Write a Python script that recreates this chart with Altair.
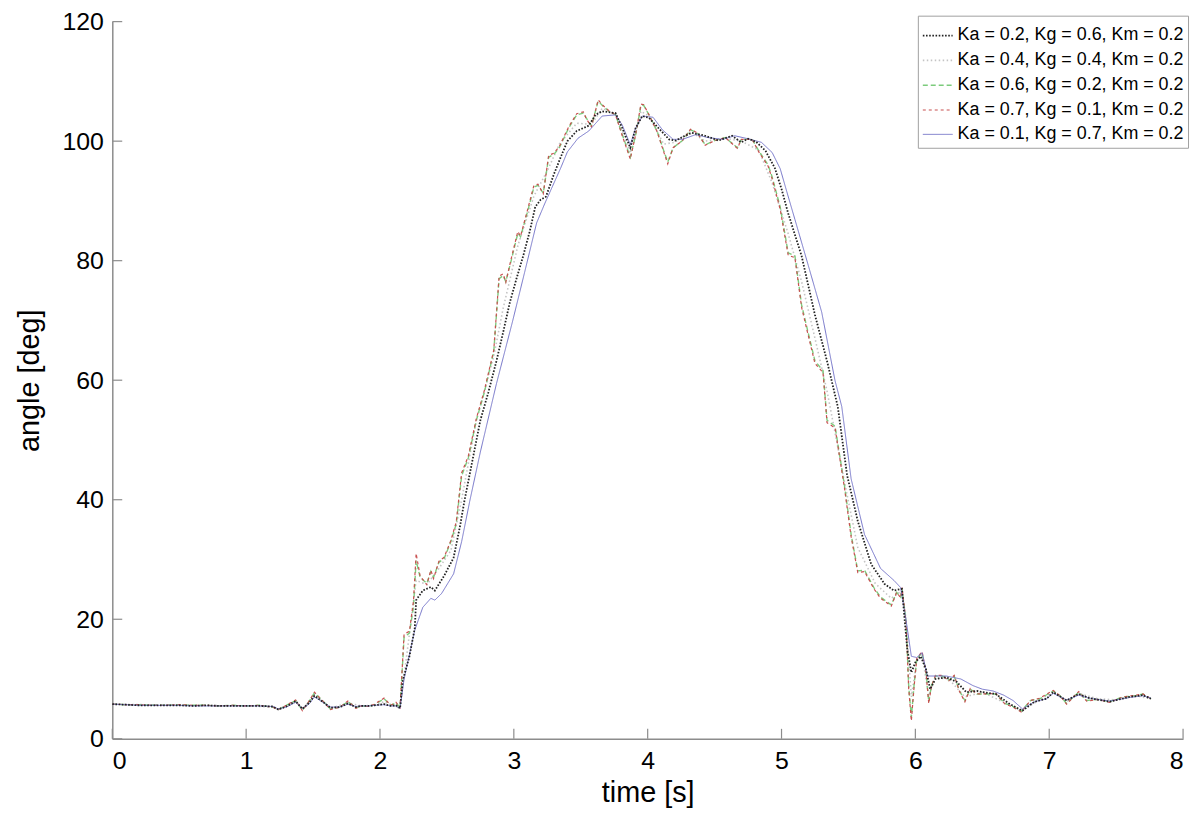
import altair as alt
import pandas as pd

series_names = [
    "Ka = 0.2, Kg = 0.6, Km = 0.2",
    "Ka = 0.4, Kg = 0.4, Km = 0.2",
    "Ka = 0.6, Kg = 0.2, Km = 0.2",
    "Ka = 0.7, Kg = 0.1, Km = 0.2",
    "Ka = 0.1, Kg = 0.7, Km = 0.2",
]

# Ka = 0.6 (green) and Ka = 0.7 (red) share this time grid
t_fast = [0, 0.1, 0.2, 0.3, 0.4, 0.5, 0.6, 0.7, 0.8, 0.9, 1.0, 1.1, 1.2,
          1.24, 1.3, 1.37, 1.42, 1.47, 1.51, 1.56, 1.63, 1.7, 1.76, 1.82, 1.86, 1.92, 1.96, 2.03, 2.08, 2.12, 2.15,
          2.18, 2.22, 2.25, 2.27, 2.30, 2.35, 2.38, 2.40, 2.44, 2.48,
          2.53, 2.57, 2.61, 2.66, 2.72, 2.78, 2.85, 2.89, 2.92, 2.94,
          2.98, 3.03, 3.05, 3.10, 3.15, 3.18, 3.22, 3.26, 3.30, 3.34,
          3.41, 3.47, 3.52, 3.54, 3.58, 3.63, 3.66, 3.71, 3.76, 3.81,
          3.87, 3.91, 3.95, 3.97, 4.01, 4.07, 4.12, 4.15, 4.19, 4.26,
          4.32, 4.37, 4.43, 4.50, 4.58, 4.67, 4.70, 4.78, 4.83, 4.90,
          4.93, 4.99, 5.05, 5.10, 5.15, 5.19, 5.25, 5.31, 5.34, 5.40,
          5.47, 5.52, 5.57, 5.62, 5.69, 5.74, 5.82, 5.86, 5.89, 5.90,
          5.93, 5.95, 5.97, 5.99, 6.01, 6.05, 6.08, 6.10, 6.12, 6.15,
          6.20, 6.25, 6.29, 6.33, 6.37, 6.41, 6.46, 6.53, 6.60, 6.67,
          6.73, 6.79, 6.86, 6.93, 7.03, 7.08, 7.13, 7.22, 7.28, 7.36,
          7.45, 7.55, 7.65, 7.70, 7.76]

v_green = [5.8, 5.7, 5.7, 5.6, 5.6, 5.7, 5.6, 5.6, 5.5, 5.6, 5.5, 5.6, 5.3,
           4.9, 5.6, 6.4, 4.8, 6.2, 7.7, 6.6, 5.0, 5.3, 6.2, 5.2, 5.5, 5.4, 5.7, 6.7, 5.6, 6.0, 5.2,
           17.0, 17.7, 22.0, 29.8, 27.0, 26.0, 28.0, 27.0, 29.5, 30.2,
           33.0, 36.0, 44.0, 47.0, 53.3, 58.0, 64.8, 77.0, 77.5, 76.5,
           80.0, 84.6, 84.0, 88.0, 92.3, 92.6, 91.3, 97.3, 97.8, 98.9,
           102.2, 104.4, 104.7, 103.9, 102.6, 106.7, 106.0, 105.0, 104.4, 101.1,
           97.3, 101.0, 106.0, 106.0, 104.4, 101.7, 98.4, 96.5, 98.9, 100.1,
           101.9, 101.4, 99.4, 100.1, 100.6, 98.9, 100.3, 100.3, 98.4, 96.0,
           94.0, 89.0, 81.3, 80.8, 72.6, 68.8, 63.2, 61.6, 53.3, 52.3,
           42.4, 34.2, 28.1, 28.2, 25.3, 23.7, 22.4, 24.5, 23.7, 25.1,
           19.9, 8.9, 3.6, 8.9, 13.3, 14.4, 11.1, 6.2, 8.9, 10.5,
           10.5, 9.8, 10.5, 8.0, 6.4, 8.3, 7.5, 7.5, 7.5, 5.9,
           5.4, 4.6, 6.4, 6.7, 8.0, 7.2, 5.9, 7.8, 6.4, 6.6,
           6.2, 7.0, 7.2, 7.5, 6.7]

v_red = [5.8, 5.7, 5.7, 5.6, 5.6, 5.7, 5.6, 5.6, 5.5, 5.6, 5.5, 5.6, 5.3,
         4.9, 5.6, 6.5, 4.7, 6.3, 7.8, 6.6, 4.9, 5.3, 6.3, 5.1, 5.5, 5.4, 5.8, 6.8, 5.6, 6.1, 5.2,
         17.5, 18.0, 23.0, 31.0, 27.2, 25.8, 28.2, 26.8, 29.7, 30.4,
         33.2, 36.3, 44.5, 47.3, 53.6, 58.3, 65.0, 77.4, 77.8, 76.4,
         80.3, 84.9, 84.1, 88.3, 92.6, 92.8, 91.2, 97.6, 98.0, 99.1,
         102.4, 104.6, 104.9, 103.8, 102.4, 106.9, 106.1, 105.1, 104.4, 100.9,
         97.0, 101.1, 106.2, 106.1, 104.4, 101.6, 98.2, 96.2, 98.9, 100.1,
         102.0, 101.4, 99.3, 100.1, 100.6, 98.8, 100.3, 100.3, 98.2, 95.8,
         93.7, 88.6, 80.9, 80.5, 72.2, 68.4, 62.8, 61.3, 52.9, 52.0,
         42.0, 33.8, 27.8, 28.0, 25.1, 23.5, 22.2, 24.5, 23.6, 25.3,
         19.6, 8.4, 3.0, 8.6, 13.4, 14.6, 11.0, 5.9, 8.8, 10.6,
         10.6, 9.7, 10.6, 7.9, 6.2, 8.4, 7.5, 7.5, 7.6, 5.8,
         5.3, 4.5, 6.4, 6.8, 8.1, 7.2, 5.8, 7.9, 6.3, 6.6,
         6.1, 7.0, 7.3, 7.5, 6.7]

# Ka = 0.4 (light grey)
t_gray = [0, 0.5, 1.0, 1.2, 1.24, 1.3, 1.37, 1.42, 1.51, 1.63, 1.76, 1.86, 1.96, 2.03, 2.15,
          2.2, 2.27, 2.35, 2.44, 2.53, 2.61, 2.72, 2.85, 2.92, 3.03, 3.15, 3.26, 3.34, 3.47, 3.58,
          3.66, 3.76, 3.81, 3.87, 3.95, 4.01, 4.12, 4.2, 4.32, 4.43, 4.58, 4.7, 4.83, 4.93, 5.05,
          5.15, 5.25, 5.34, 5.47, 5.57, 5.7, 5.82, 5.9, 5.93, 5.97, 6.01, 6.05, 6.1, 6.15, 6.25,
          6.37, 6.5, 6.67, 6.79, 6.93, 7.03, 7.13, 7.22, 7.36, 7.5, 7.65, 7.76]
v_gray = [5.8, 5.6, 5.5, 5.3, 4.9, 5.5, 6.3, 4.9, 7.4, 5.1, 6.0, 5.5, 5.6, 6.2, 5.1,
          14.0, 26.5, 25.8, 28.5, 31.5, 40.0, 53.3, 64.0, 72.0, 82.5, 90.8, 95.5, 99.5, 103.0, 102.8,
          105.5, 104.5, 101.6, 98.0, 105.0, 104.2, 99.5, 99.8, 101.6, 100.0, 100.5, 100.0, 98.5, 93.0, 84.5,
          76.5, 67.0, 58.2, 43.0, 32.0, 26.0, 23.5, 24.8, 20.0, 7.0, 13.0, 14.0, 7.2, 10.2, 10.0,
          7.0, 7.8, 6.0, 4.7, 6.5, 7.9, 6.2, 7.6, 6.7, 6.5, 7.2, 6.7]

# Ka = 0.2 (black, dotted)
t_black = [0, 0.1, 0.2, 0.3, 0.4, 0.5, 0.6, 0.7, 0.8, 0.9, 1.0, 1.1, 1.2,
           1.24, 1.3, 1.37, 1.42, 1.47, 1.51, 1.56, 1.63, 1.7, 1.76, 1.82, 1.86, 1.92, 1.96, 2.03, 2.08, 2.12, 2.15,
           2.17, 2.22, 2.26, 2.27, 2.32, 2.38, 2.41, 2.48, 2.55, 2.60,
           2.63, 2.69, 2.75, 2.81, 2.87, 2.92, 2.97, 3.02, 3.07, 3.12,
           3.16, 3.20, 3.24, 3.30, 3.35, 3.40, 3.47, 3.56, 3.61, 3.66,
           3.76, 3.81, 3.87, 3.91, 3.96, 4.01, 4.08, 4.16, 4.21, 4.27,
           4.33, 4.43, 4.53, 4.63, 4.70, 4.75, 4.81, 4.88, 4.95, 5.00,
           5.05, 5.15, 5.25, 5.34, 5.42, 5.49, 5.57, 5.67, 5.77, 5.84,
           5.90, 5.92, 5.94, 5.97, 6.00, 6.04, 6.08, 6.11, 6.15, 6.23,
           6.31, 6.38, 6.46, 6.53, 6.60, 6.70, 6.80, 6.89, 6.98, 7.03,
           7.13, 7.22, 7.30, 7.45, 7.60, 7.70, 7.76]
v_black = [5.8, 5.7, 5.6, 5.6, 5.6, 5.6, 5.5, 5.6, 5.5, 5.5, 5.5, 5.5, 5.4,
           4.9, 5.4, 6.3, 5.0, 6.0, 7.2, 6.4, 5.2, 5.3, 5.9, 5.3, 5.5, 5.5, 5.6, 5.8, 5.5, 5.6, 5.1,
           9.7, 13.8, 18.5, 23.2, 24.8, 25.4, 24.8, 27.3, 30.3, 35.8,
           39.7, 46.5, 53.3, 58.0, 63.2, 68.0, 73.0, 77.0, 80.8, 85.0,
           89.0, 90.2, 90.7, 94.5, 97.3, 100.0, 101.7, 102.6, 104.4, 105.0,
           104.7, 102.2, 98.9, 102.2, 104.2, 103.9, 102.2, 100.3, 100.1, 100.8,
           101.4, 100.9, 100.1, 100.9, 99.8, 100.4, 99.9, 98.4, 95.5, 92.0,
           87.9, 80.8, 70.9, 63.2, 55.6, 44.1, 36.4, 29.2, 25.9, 24.8,
           25.1, 19.9, 14.9, 11.1, 12.8, 13.8, 11.6, 8.3, 10.0, 10.3,
           9.5, 7.8, 8.0, 7.7, 7.5, 5.9, 4.7, 6.2, 6.7, 7.8,
           6.4, 7.5, 6.8, 6.2, 7.0, 7.3, 6.7]

# Ka = 0.1 (blue, solid)
t_blue = [0, 0.1, 0.2, 0.3, 0.4, 0.5, 0.6, 0.7, 0.8, 0.9, 1.0, 1.1, 1.2,
          1.24, 1.3, 1.37, 1.42, 1.47, 1.51, 1.56, 1.63, 1.7, 1.76, 1.82, 1.86, 1.92, 1.96, 2.03, 2.08, 2.12, 2.15,
          2.18, 2.26, 2.32, 2.38, 2.41, 2.46, 2.55, 2.61, 2.67, 2.75,
          2.87, 2.99, 3.08, 3.17, 3.23, 3.29, 3.35, 3.40, 3.48, 3.56,
          3.66, 3.76, 3.81, 3.87, 3.91, 3.96, 4.04, 4.11, 4.19, 4.26,
          4.36, 4.45, 4.56, 4.65, 4.75, 4.85, 4.93, 4.99, 5.04, 5.10,
          5.20, 5.30, 5.40, 5.45, 5.52, 5.62, 5.74, 5.84, 5.89, 5.93,
          5.97, 6.01, 6.05, 6.09, 6.14, 6.23, 6.34, 6.43, 6.50, 6.58,
          6.66, 6.73, 6.80, 6.89, 6.98, 7.03, 7.13, 7.22, 7.30, 7.45,
          7.60, 7.70, 7.76]
v_blue = [5.8, 5.7, 5.6, 5.6, 5.6, 5.6, 5.5, 5.5, 5.5, 5.5, 5.5, 5.5, 5.4,
          5.0, 5.3, 6.1, 5.1, 5.8, 7.0, 6.3, 5.3, 5.3, 5.8, 5.4, 5.5, 5.5, 5.6, 5.7, 5.5, 5.5, 5.1,
          10.0, 18.2, 22.0, 23.5, 23.2, 24.3, 27.6, 33.0, 39.7, 48.0,
          59.4, 69.8, 78.0, 86.3, 89.5, 92.5, 95.5, 98.2, 100.5, 101.7,
          104.2, 104.4, 102.7, 99.4, 102.2, 104.2, 104.0, 101.9, 100.3, 100.3,
          101.1, 100.6, 100.3, 100.9, 100.4, 99.8, 98.1, 95.4, 91.5, 86.9,
          79.2, 71.4, 59.9, 55.6, 43.5, 34.2, 28.5, 26.5, 25.3, 19.9,
          13.8, 13.6, 14.4, 10.5, 10.5, 10.5, 10.0, 8.9, 8.3, 8.0,
          7.3, 6.4, 5.0, 6.2, 6.7, 7.6, 6.5, 7.3, 6.8, 6.3,
          6.9, 7.2, 6.8]

x_ticks = [0, 1, 2, 3, 4, 5, 6, 7, 8]
y_ticks = [0, 20, 40, 60, 80, 100, 120]

line_colors = ["#222222", "#c4c4c4", "#7ccb7c", "#c85050", "#7474c8"]
line_dashes = [[1.6, 1.6], [1.5, 2.5], [5, 3], [3, 3], [1, 0]]
line_widths = [1.8, 1.0, 1.3, 1.2, 1.2]

frames = []
for name, tt, vv in [
    (series_names[1], t_gray, v_gray),
    (series_names[2], t_fast, v_green),
    (series_names[3], t_fast, v_red),
    (series_names[4], t_blue, v_blue),
    (series_names[0], t_black, v_black),
]:
    frames.append(pd.DataFrame({"time": tt, "angle": vv, "series": name}))
df = pd.concat(frames, ignore_index=True)

W, H = 1078, 722
FONT = "Liberation Sans"

x_scale = alt.Scale(domain=[0, 8], nice=False, zero=False)
y_scale = alt.Scale(domain=[0, 120], nice=False)

legend = alt.Legend(
    title=None, orient="none", legendX=811, legendY=-6,
    symbolType="stroke", symbolSize=900, symbolStrokeWidth=1.4,
    labelFont=FONT, labelFontSize=18, labelColor="#000000", labelOffset=4,
    rowPadding=0, padding=4, strokeColor="#a0a0a0", fillColor="#ffffff",
    labelLimit=400,
)

lines = alt.Chart(df).mark_line(interpolate="linear").encode(
    x=alt.X("time:Q", scale=x_scale,
            axis=alt.Axis(title="time [s]", values=x_ticks, format="d")),
    y=alt.Y("angle:Q", scale=y_scale,
            axis=alt.Axis(title="angle [deg]", values=y_ticks, format="d")),
    color=alt.Color("series:N", scale=alt.Scale(domain=series_names, range=line_colors),
                    legend=legend),
    strokeDash=alt.StrokeDash("series:N", scale=alt.Scale(domain=series_names, range=line_dashes),
                              legend=legend),
    strokeWidth=alt.StrokeWidth("series:N", scale=alt.Scale(domain=series_names, range=line_widths),
                                legend=None),
    detail="series:N",
)

xt = alt.Chart(pd.DataFrame({"tick": x_ticks})).mark_rule(color="#8c8c8c", strokeWidth=1.2).encode(
    x=alt.X("tick:Q", scale=x_scale),
    y=alt.value(H), y2=alt.value(H - 10),
)
yt = alt.Chart(pd.DataFrame({"tick": y_ticks})).mark_rule(color="#8c8c8c", strokeWidth=1.2).encode(
    y=alt.Y("tick:Q", scale=y_scale),
    x=alt.value(0), x2=alt.value(10),
)

chart = alt.layer(lines, xt, yt).properties(
    width=W, height=H,
    autosize=alt.AutoSizeParams(type="none"),
    padding={"left": 105, "top": 11, "right": 9, "bottom": 71},
).configure_view(stroke="transparent").configure_axis(
    grid=False, ticks=False, domainColor="#8c8c8c", domainWidth=1.5,
    labelFont=FONT, labelFontSize=25, labelColor="#000000",
    titleFont=FONT, titleFontSize=29, titleColor="#000000", titleFontWeight="normal",
).configure_axisX(labelPadding=10, titlePadding=5).configure_axisY(labelPadding=9, titlePadding=18)

chart.save("out.html", embed_options={"renderer": "svg", "actions": False})
